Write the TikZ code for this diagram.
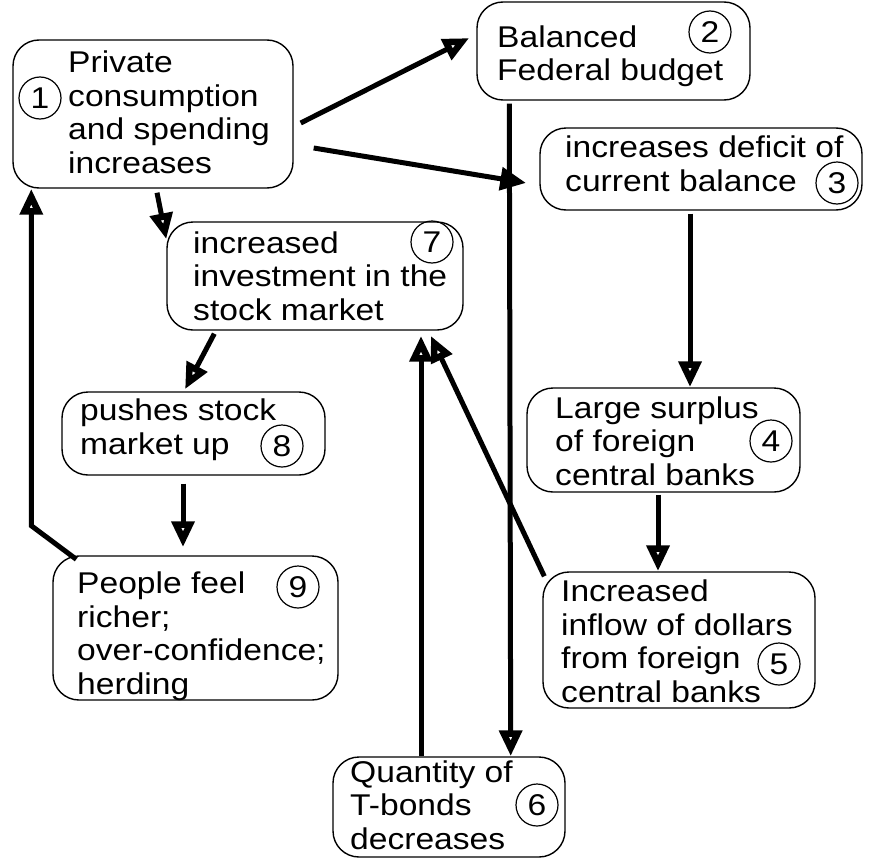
\documentclass[tikz,border=0pt]{standalone}
\usepackage{fontspec}
\setmainfont{Liberation Sans}[FakeStretch=1.12]
\usetikzlibrary{arrows.meta,calc}
\begin{document}
\begin{tikzpicture}[x=1pt,y=-1pt,
  box/.style={draw, rounded corners=26pt, line width=1.4pt, inner sep=0pt},
  txt/.style={anchor=base west, align=left, inner sep=0pt, font=\fontsize{30}{33.5}\selectfont},
  num/.style={draw, circle, line width=1.2pt, minimum size=42pt, inner sep=0pt, font=\fontsize{30}{34}\selectfont},
  arr/.style={line width=5pt, -{Triangle[open, length=26pt, width=22pt, line width=6.5pt]}},
]
\useasboundingbox[fill=white] (0,0) rectangle (869,859);

% boxes
\node[box, minimum width=280pt, minimum height=148pt] (b1) at (153,114) {};
\node[box, minimum width=273pt, minimum height=98pt] (b2) at (613.5,51) {};
\node[box, minimum width=322pt, minimum height=82pt] (b3) at (701,169) {};
\node[box, minimum width=296pt, minimum height=108pt] (b7) at (315,276) {};
\node[box, minimum width=263pt, minimum height=83pt] (b8) at (193.5,433.5) {};
\node[box, minimum width=285pt, minimum height=144pt] (b9) at (195.5,628) {};
\node[box, minimum width=273pt, minimum height=104pt] (b4) at (663.5,440) {};
\node[box, minimum width=272pt, minimum height=136pt] (b5) at (679,640) {};
\node[box, minimum width=232pt, minimum height=100pt] (b6) at (449,807) {};

% texts (anchored at the baseline of the last line)
\node[txt] (t1) at (68,173) {Private\\consumption\\and spending\\increases};
\node[txt] (t2) at (497,81) {Balanced\\Federal budget};
\node[txt] (t3) at (565,191) {increases deficit of\\current balance};
\node[txt] (t7) at (193,320) {increased\\investment in the\\stock market};
\node[txt] (t8) at (80,454) {pushes stock\\market up};
\node[txt] (t9) at (77,694) {People feel\\richer;\\over-confidence;\\herding};
\node[txt] (t4) at (555,485) {Large surplus\\of foreign\\central banks};
\node[txt] (t5) at (561,702) {Increased\\inflow of dollars\\from foreign\\central banks};
\node[txt] (t6) at (350,849) {Quantity of\\T-bonds\\decreases};

% numbers
\node[num] (c1) at (40,98) {1};
\node[num] (c2) at (710,32) {2};
\node[num] (c3) at (837,183) {3};
\node[num] (c7) at (432,242) {7};
\node[num] (c8) at (282,446) {8};
\node[num] (c9) at (298,587) {9};
\node[num] (c4) at (771,441) {4};
\node[num] (c5) at (779,664) {5};
\node[num] (c6) at (537,805) {6};

% connectors
\draw[arr] ($(b1.east)+(7,9)$) -- ($(b2.west)+(-7,-13)$);
\draw[arr] ($(b1.east)+(20,34)$) -- ($(b3.west)+(-13,14)$);
\draw[arr] ($(b1.south)+(4,4)$) -- ($(b7.north west)+(0,18)$);
\draw[arr] ($(b2.south west)+(33,3)$) -- ($(b6.north east)+(-55,0)$);
\draw[arr] ($(b3.south)+(-11,3)$) -- ($(b4.north)+(26.5,0)$);
\draw[arr] ($(b4.south)+(-5.5,2)$) -- ($(b5.north)+(-21,0)$);
\draw[arr] ($(b5.north west)+(2,5)$) -- ($(b7.south east)+(-33,5)$);
\draw[arr] ($(b6.north)+(-28,0)$) -- ($(b7.south)+(106,5)$);
\draw[arr] ($(b7.south west)+(48,3)$) -- ($(b8.north)+(-8.5,-2)$);
\draw[arr] ($(b8.south)+(-10.5,8)$) -- ($(b9.north)+(-12.5,-8)$);
\coordinate (k9) at ($(b1.south west)+(19,337)$);
\draw[arr] ($(b9.north west)+(24,4)$) -- (k9) -- (k9 |- b1.south);
\end{tikzpicture}
\end{document}
